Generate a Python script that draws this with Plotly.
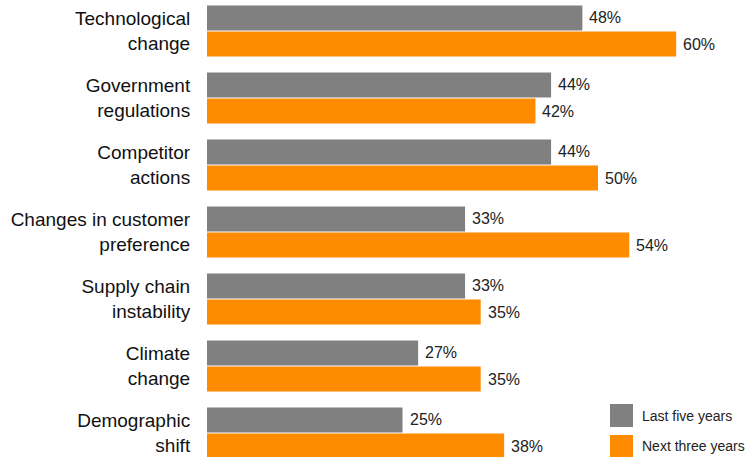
import plotly.graph_objects as go

categories = [
    "Technological<br>change",
    "Government<br>regulations",
    "Competitor<br>actions",
    "Changes in customer<br>preference",
    "Supply chain<br>instability",
    "Climate<br>change",
    "Demographic<br>shift",
]
last_five_years = [48, 44, 44, 33, 33, 27, 25]
next_three_years = [60, 42, 50, 54, 35, 35, 38]
series_names = ["Last five years", "Next three years"]
series_colors = ["#808080", "#FF8C00"]

W, H = 745, 457
ML = 207  # left margin in px
FONT = "Liberation Sans, Arial, Helvetica, sans-serif"

fig = go.Figure()
for i, (name, vals, col) in enumerate(zip(series_names, [last_five_years, next_three_years], series_colors)):
    fig.add_trace(go.Bar(
        y=categories, x=vals, name=name, orientation="h",
        marker=dict(color=col, line=dict(width=0)),
        showlegend=False,
    ))
    # value labels just past the end of each bar
    offset = -0.2 if i == 0 else 0.2
    for j, v in enumerate(vals):
        fig.add_annotation(
            x=v, y=j + offset, xref="x", yref="y", text=f"{v}%",
            showarrow=False, xanchor="left", yanchor="middle", xshift=5,
            font=dict(family=FONT, size=16, color="#222"),
        )

# legend drawn as swatches + labels (pixel positions converted to paper coords)
def px_x(p):
    return (p - ML) / (W - ML)

def px_y(p):
    return 1 - p / H

swatches = [(404, 427), (435, 457)]
for (y0, y1), col, name in zip(swatches, series_colors, series_names):
    fig.add_shape(type="rect", xref="paper", yref="paper",
                  x0=px_x(610), x1=px_x(633), y0=px_y(y1), y1=px_y(y0),
                  fillcolor=col, line=dict(width=0))
    fig.add_annotation(xref="paper", yref="paper", x=px_x(640), y=px_y((y0 + y1) / 2),
                       text=name, showarrow=False, xanchor="left", yanchor="middle",
                       font=dict(family=FONT, size=14, color="#222"))

fig.update_layout(
    width=W, height=H,
    margin=dict(l=ML, r=0, t=0, b=0),
    barmode="group", bargap=0.224, bargroupgap=0.04,
    plot_bgcolor="white", paper_bgcolor="white",
    xaxis=dict(range=[0, (W - ML) / 7.82], visible=False, showgrid=False, zeroline=False),
    yaxis=dict(
        type="category", range=[(H - 31) / 67, -31 / 67],
        showgrid=False, zeroline=False, showline=False,
        ticks="outside", ticklen=0, ticklabelstandoff=12,
        tickfont=dict(family=FONT, size=19, color="#111"),
    ),
)

fig.write_html("out.html")
